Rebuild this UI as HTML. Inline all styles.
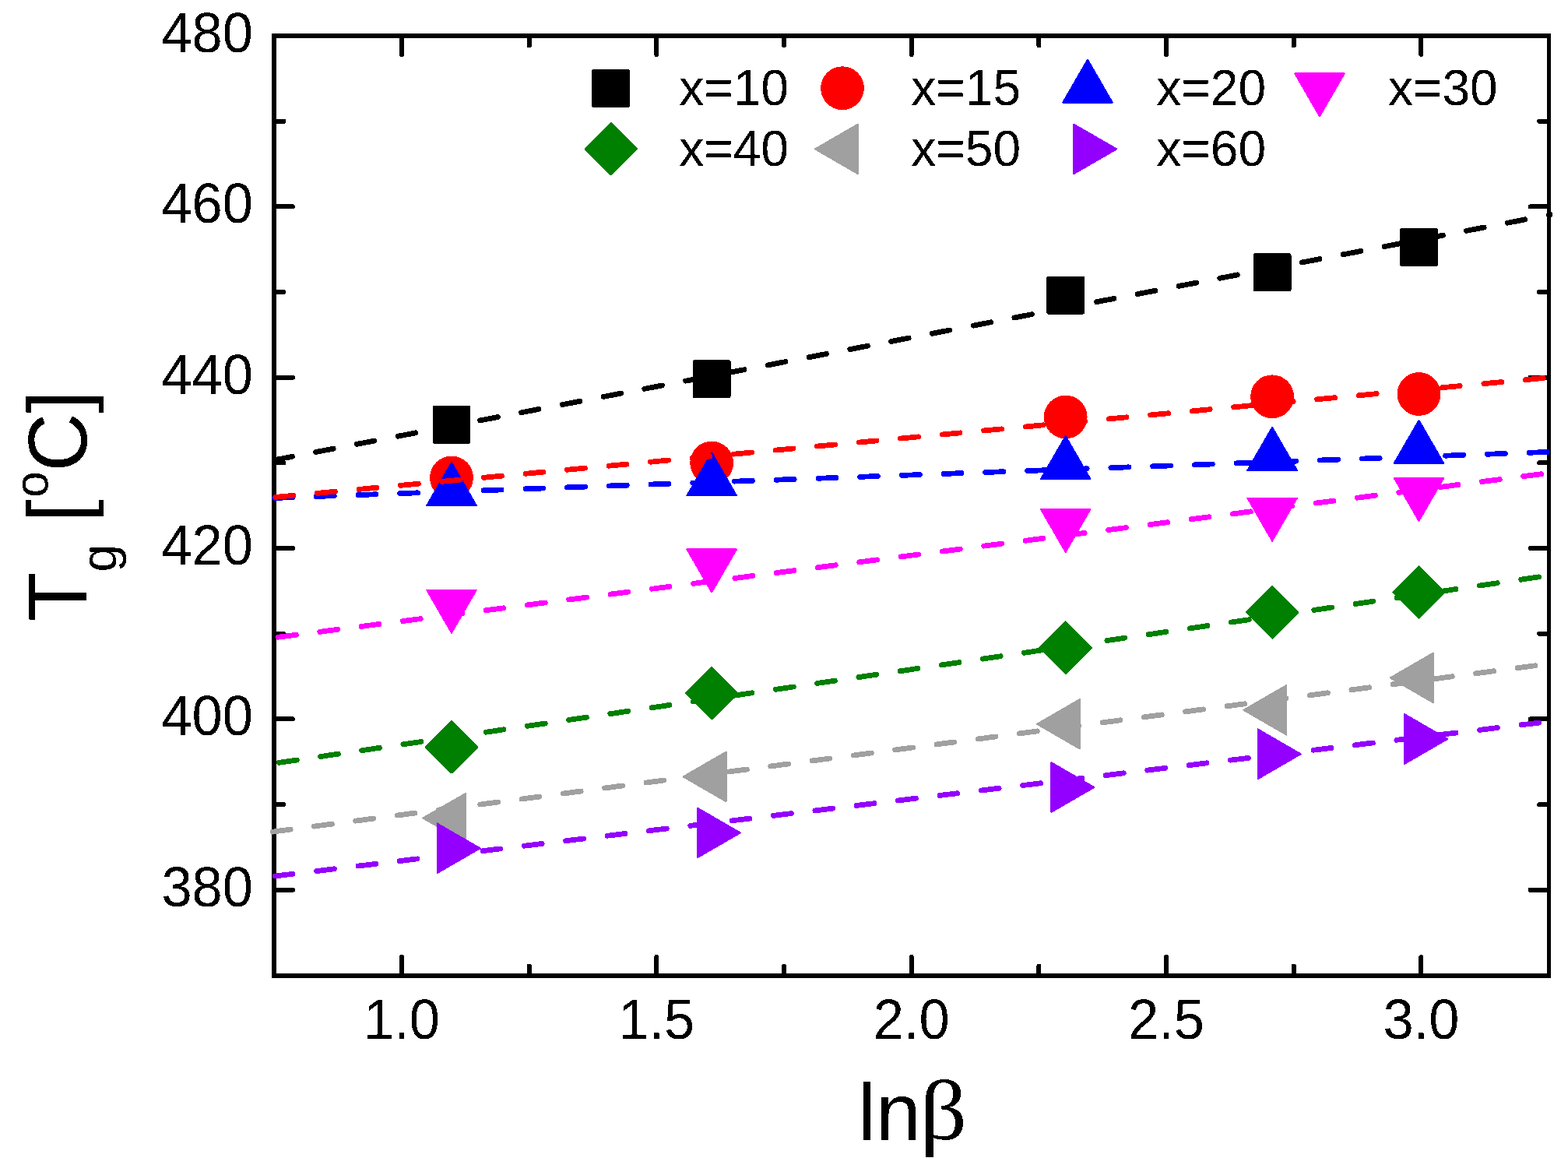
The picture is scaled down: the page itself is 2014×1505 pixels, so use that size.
<!DOCTYPE html>
<html><head><meta charset="utf-8"><title>Tg vs ln beta</title><style>html,body{margin:0;padding:0;background:#fff;overflow:hidden}svg{display:block}</style></head><body>
<svg width="2014" height="1505" viewBox="0 0 2014 1505" shape-rendering="crispEdges">
<rect width="2014" height="1505" fill="#fff"/>
<defs><filter id="bin"><feComponentTransfer><feFuncA type="discrete" tableValues="0 1"/></feComponentTransfer></filter></defs>
<path d="M352 43V1256M349 46H1992M349 1253H1992" stroke="#000" stroke-width="6" fill="none"/>
<path d="M1989.5 43V1256" stroke="#000" stroke-width="5" fill="none"/>
<path d="M516.0 1253.0V1229.0M516.0 46.0V70.0M843.3 1253.0V1229.0M843.3 46.0V70.0M1170.7 1253.0V1229.0M1170.7 46.0V70.0M1498.0 1253.0V1229.0M1498.0 46.0V70.0M1825.4 1253.0V1229.0M1825.4 46.0V70.0M679.7 1253.0V1240.7M679.7 46.0V58.3M1007.0 1253.0V1240.7M1007.0 46.0V58.3M1334.4 1253.0V1240.7M1334.4 46.0V58.3M1661.7 1253.0V1240.7M1661.7 46.0V58.3M352.0 265.4H376.0M1989.5 265.4H1965.5M352.0 484.7H376.0M1989.5 484.7H1965.5M352.0 704.1H376.0M1989.5 704.1H1965.5M352.0 923.4H376.0M1989.5 923.4H1965.5M352.0 1142.8H376.0M1989.5 1142.8H1965.5M352.0 155.7H364.3M1989.5 155.7H1977.2M352.0 375.0H364.3M1989.5 375.0H1977.2M352.0 594.4H364.3M1989.5 594.4H1977.2M352.0 813.8H364.3M1989.5 813.8H1977.2M352.0 1033.1H364.3M1989.5 1033.1H1977.2" stroke="#000" stroke-width="6" stroke-linecap="round" fill="none"/>
<g font-family="Liberation Sans, Arial, sans-serif" font-size="70.5" fill="#000" filter="url(#bin)">
<text x="325" y="0" text-anchor="end" transform="translate(0 67.0) scale(1 1.035)">480</text>
<text x="325" y="0" text-anchor="end" transform="translate(0 286.4) scale(1 1.035)">460</text>
<text x="325" y="0" text-anchor="end" transform="translate(0 505.7) scale(1 1.035)">440</text>
<text x="325" y="0" text-anchor="end" transform="translate(0 725.1) scale(1 1.035)">420</text>
<text x="325" y="0" text-anchor="end" transform="translate(0 944.4) scale(1 1.035)">400</text>
<text x="325" y="0" text-anchor="end" transform="translate(0 1163.8) scale(1 1.035)">380</text>
<text x="516.0" y="0" text-anchor="middle" transform="translate(0 1334) scale(1 1.035)">1.0</text>
<text x="843.3" y="0" text-anchor="middle" transform="translate(0 1334) scale(1 1.035)">1.5</text>
<text x="1170.7" y="0" text-anchor="middle" transform="translate(0 1334) scale(1 1.035)">2.0</text>
<text x="1498.0" y="0" text-anchor="middle" transform="translate(0 1334) scale(1 1.035)">2.5</text>
<text x="1825.4" y="0" text-anchor="middle" transform="translate(0 1334) scale(1 1.035)">3.0</text>
</g>
<g font-family="Liberation Sans, Arial, sans-serif" font-size="104" fill="#000" filter="url(#bin)">
<text x="1101.9" y="1463.8">ln</text>
<text transform="translate(1181.2 1463.3) scale(1.09 1)" x="0" y="0" font-family="Liberation Serif, serif" font-size="109.8">β</text>
<text transform="translate(111.5 0) rotate(-90) scale(1 1.03)" x="-798" y="0">T<tspan font-size="63.5" dy="36.9">g</tspan><tspan dy="-36.9"> [</tspan><tspan font-size="60" dx="2.5" dy="-48.6">o</tspan><tspan dy="48.6">C]</tspan></text>
</g>
<rect x="555.6" y="520.9" width="48.8" height="48.8" rx="2.5" fill="#000000"/>
<rect x="889.8" y="462.3" width="48.8" height="48.8" rx="2.5" fill="#000000"/>
<rect x="1344.3" y="354.8" width="48.8" height="48.8" rx="2.5" fill="#000000"/>
<rect x="1609.7" y="325.4" width="48.8" height="48.8" rx="2.5" fill="#000000"/>
<rect x="1798.1" y="293.3" width="48.8" height="48.8" rx="2.5" fill="#000000"/>
<circle cx="580.0" cy="613.4" r="27.9" fill="#FF0000"/>
<circle cx="914.2" cy="594.5" r="27.9" fill="#FF0000"/>
<circle cx="1368.7" cy="535.5" r="27.9" fill="#FF0000"/>
<circle cx="1634.1" cy="509.3" r="27.9" fill="#FF0000"/>
<circle cx="1822.5" cy="506.0" r="27.9" fill="#FF0000"/>
<polygon points="580.0,594.0 611.8,649.1 548.2,649.1" fill="#0000FF" stroke="#0000FF" stroke-width="2" stroke-linejoin="round"/>
<polygon points="914.2,581.3 946.0,636.4 882.4,636.4" fill="#0000FF" stroke="#0000FF" stroke-width="2" stroke-linejoin="round"/>
<polygon points="1368.7,560.1 1400.5,615.1 1336.9,615.1" fill="#0000FF" stroke="#0000FF" stroke-width="2" stroke-linejoin="round"/>
<polygon points="1634.1,548.8 1665.9,603.9 1602.3,603.9" fill="#0000FF" stroke="#0000FF" stroke-width="2" stroke-linejoin="round"/>
<polygon points="1822.5,539.8 1854.3,594.9 1790.7,594.9" fill="#0000FF" stroke="#0000FF" stroke-width="2" stroke-linejoin="round"/>
<polygon points="580.0,812.7 611.8,757.6 548.2,757.6" fill="#FF00FF" stroke="#FF00FF" stroke-width="2" stroke-linejoin="round"/>
<polygon points="914.2,760.5 946.0,705.4 882.4,705.4" fill="#FF00FF" stroke="#FF00FF" stroke-width="2" stroke-linejoin="round"/>
<polygon points="1368.7,709.0 1400.5,653.9 1336.9,653.9" fill="#FF00FF" stroke="#FF00FF" stroke-width="2" stroke-linejoin="round"/>
<polygon points="1634.1,694.7 1665.9,639.6 1602.3,639.6" fill="#FF00FF" stroke="#FF00FF" stroke-width="2" stroke-linejoin="round"/>
<polygon points="1822.5,669.0 1854.3,613.9 1790.7,613.9" fill="#FF00FF" stroke="#FF00FF" stroke-width="2" stroke-linejoin="round"/>
<polygon points="580.0,926.0 613.3,959.3 580.0,992.6 546.7,959.3" fill="#008000" stroke="#008000" stroke-width="2" stroke-linejoin="round"/>
<polygon points="914.2,856.9 947.5,890.2 914.2,923.5 880.9,890.2" fill="#008000" stroke="#008000" stroke-width="2" stroke-linejoin="round"/>
<polygon points="1368.7,798.5 1402.0,831.8 1368.7,865.1 1335.4,831.8" fill="#008000" stroke="#008000" stroke-width="2" stroke-linejoin="round"/>
<polygon points="1634.1,753.0 1667.4,786.3 1634.1,819.6 1600.8,786.3" fill="#008000" stroke="#008000" stroke-width="2" stroke-linejoin="round"/>
<polygon points="1822.5,727.0 1855.8,760.3 1822.5,793.6 1789.2,760.3" fill="#008000" stroke="#008000" stroke-width="2" stroke-linejoin="round"/>
<polygon points="543.3,1050.5 598.4,1018.7 598.4,1082.3" fill="#A0A0A0" stroke="#A0A0A0" stroke-width="2" stroke-linejoin="round"/>
<polygon points="877.5,997.4 932.6,965.6 932.6,1029.2" fill="#A0A0A0" stroke="#A0A0A0" stroke-width="2" stroke-linejoin="round"/>
<polygon points="1332.0,929.8 1387.0,898.0 1387.0,961.6" fill="#A0A0A0" stroke="#A0A0A0" stroke-width="2" stroke-linejoin="round"/>
<polygon points="1597.4,911.8 1652.4,880.0 1652.4,943.6" fill="#A0A0A0" stroke="#A0A0A0" stroke-width="2" stroke-linejoin="round"/>
<polygon points="1785.8,870.4 1840.8,838.6 1840.8,902.2" fill="#A0A0A0" stroke="#A0A0A0" stroke-width="2" stroke-linejoin="round"/>
<polygon points="616.7,1089.3 561.6,1057.5 561.6,1121.1" fill="#9400FF" stroke="#9400FF" stroke-width="2" stroke-linejoin="round"/>
<polygon points="950.9,1069.4 895.9,1037.6 895.9,1101.2" fill="#9400FF" stroke="#9400FF" stroke-width="2" stroke-linejoin="round"/>
<polygon points="1405.4,1011.0 1350.4,979.2 1350.4,1042.8" fill="#9400FF" stroke="#9400FF" stroke-width="2" stroke-linejoin="round"/>
<polygon points="1670.8,968.3 1615.8,936.5 1615.8,1000.1" fill="#9400FF" stroke="#9400FF" stroke-width="2" stroke-linejoin="round"/>
<polygon points="1859.2,949.0 1804.2,917.2 1804.2,980.8" fill="#9400FF" stroke="#9400FF" stroke-width="2" stroke-linejoin="round"/>
<path d="M353.2 1125.05L1991 926.36" stroke="#9400FF" stroke-width="6.8" stroke-linecap="round" stroke-dasharray="23 30.75" fill="none"/>
<path d="M350.3 1068.12L1991 852.24" stroke="#A0A0A0" stroke-width="6.8" stroke-linecap="round" stroke-dasharray="23 30.75" fill="none"/>
<path d="M358.4 979.36L1991 738.71" stroke="#008000" stroke-width="6.8" stroke-linecap="round" stroke-dasharray="23 30.75" fill="none"/>
<path d="M357.5 818.19L1991 607.24" stroke="#FF00FF" stroke-width="6.8" stroke-linecap="round" stroke-dasharray="23 30.75" fill="none"/>
<path d="M352.8 590.65L1991 275.72" stroke="#000000" stroke-width="6.8" stroke-linecap="round" stroke-dasharray="23 30.75" fill="none"/>
<path d="M352.6 639.48L1991 580.33" stroke="#0000FF" stroke-width="6.8" stroke-linecap="round" stroke-dasharray="23 30.75" fill="none"/>
<path d="M353.9 638.42L1991 484.71" stroke="#FF0000" stroke-width="6.8" stroke-linecap="round" stroke-dasharray="23 30.75" fill="none"/>
<rect x="760.1" y="88.9" width="48.8" height="48.8" rx="2.5" fill="#000000"/>
<circle cx="1082.0" cy="113.2" r="27.9" fill="#FF0000"/>
<polygon points="1397.0,76.6 1428.8,131.7 1365.2,131.7" fill="#0000FF" stroke="#0000FF" stroke-width="2" stroke-linejoin="round"/>
<polygon points="1695.0,149.4 1726.8,94.3 1663.2,94.3" fill="#FF00FF" stroke="#FF00FF" stroke-width="2" stroke-linejoin="round"/>
<polygon points="784.8,157.9 818.1,191.2 784.8,224.5 751.5,191.2" fill="#008000" stroke="#008000" stroke-width="2" stroke-linejoin="round"/>
<polygon points="1046.9,191.4 1101.9,159.6 1101.9,223.2" fill="#A0A0A0" stroke="#A0A0A0" stroke-width="2" stroke-linejoin="round"/>
<polygon points="1434.3,191.4 1379.2,159.6 1379.2,223.2" fill="#9400FF" stroke="#9400FF" stroke-width="2" stroke-linejoin="round"/>
<g font-family="Liberation Sans, Arial, sans-serif" font-size="64.1" fill="#000" filter="url(#bin)">
<text x="872.2" y="0" transform="translate(0 134.9) scale(1 1.02)">x=10</text>
<text x="1170.3" y="0" transform="translate(0 134.9) scale(1 1.02)">x=15</text>
<text x="1485.3" y="0" transform="translate(0 134.9) scale(1 1.02)">x=20</text>
<text x="1783" y="0" transform="translate(0 134.9) scale(1 1.02)">x=30</text>
<text x="872.2" y="0" transform="translate(0 213) scale(1 1.02)">x=40</text>
<text x="1170.3" y="0" transform="translate(0 213) scale(1 1.02)">x=50</text>
<text x="1485.3" y="0" transform="translate(0 213) scale(1 1.02)">x=60</text>
</g>
</svg></body></html>
